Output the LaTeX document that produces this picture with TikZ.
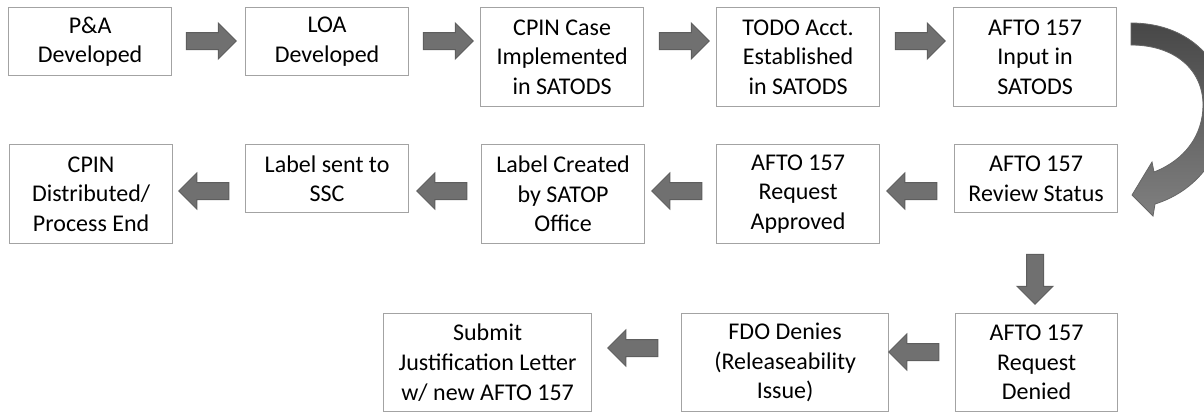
\documentclass[tikz,border=0pt]{standalone}
\usepackage{fontspec}
\setmainfont{Carlito}
\usetikzlibrary{shapes.arrows}
\definecolor{boxline}{HTML}{A3A3A3}
\definecolor{arrfill}{HTML}{707070}
\definecolor{arrline}{HTML}{5E5E5E}
\begin{document}
\begin{tikzpicture}[x=0.5pt,y=-0.5pt,
  stepbox/.style={draw=boxline, line width=0.6pt, rectangle, anchor=north west, inner sep=0pt,
    align=center, minimum width=81.5pt, font=\fontsize{12}{14.8}\selectfont},
  twoline/.style={stepbox, minimum height=34pt},
  threeline/.style={stepbox, minimum height=49.5pt},
  barrow/.style={single arrow, draw=arrline, fill=arrfill, line width=0.5pt,
    minimum height=25pt, minimum width=17.5pt, single arrow head extend=4.75pt,
    inner xsep=0pt, inner ysep=4pt, anchor=center}]
\useasboundingbox (0,0) rectangle (1204,412);
\clip (0,0) rectangle (1204,412);
% row 1
\node[twoline]   (pa)   at (8,7)   {P\&A\\Developed};
\node[twoline]   (loa)  at (245,7) {LOA\\Developed};
\node[threeline] (cpin) at (480,7) {CPIN Case\\Implemented\\in SATODS};
\node[threeline] (todo) at (716,7) {TODO Acct.\\Established\\in SATODS};
\node[threeline] (input) at (953,7) {AFTO 157\\Input in\\SATODS};
% row 2
\node[twoline]   (review) at (954,144) {AFTO 157\\Review Status};
\node[threeline] (approved) at (716,144) {AFTO 157\\Request\\Approved};
\node[threeline] (created) at (481,144) {Label Created\\by SATOP\\Office};
\node[twoline]   (sent) at (245,144) {Label sent to\\SSC};
\node[threeline] (dist) at (9,144) {CPIN\\Distributed/\\Process End};
% row 3
\node[stepbox, minimum width=81pt, minimum height=49pt] (denied) at (955,313) {AFTO 157\\Request\\Denied};
\node[stepbox, minimum width=103.5pt, minimum height=49pt] (fdo) at (681,313) {FDO Denies\\(Releaseability\\Issue)};
\node[stepbox, minimum width=104pt, minimum height=49pt] (submit) at (383,313) {Submit\\Justification Letter\\w/ new AFTO 157};
% row 1 arrows
\node[barrow] (a1) at (207,41) {};
\node[barrow] (a2) at (444,41) {};
\node[barrow] (a3) at (680,41) {};
\node[barrow] (a4) at (916,41) {};
% row 2 arrows
\node[barrow, shape border rotate=180] (a5) at (916,191) {};
\node[barrow, shape border rotate=180] (a6) at (681,191) {};
\node[barrow, shape border rotate=180] (a7) at (446,191) {};
\node[barrow, shape border rotate=180] (a8) at (208,191) {};
% down arrow
\node[barrow, shape border rotate=270, inner xsep=4pt, inner ysep=0pt] (a9) at (1035,275) {};
% row 3 arrows
\node[barrow, shape border rotate=180] (a10) at (918,352) {};
\node[barrow, shape border rotate=180] (a11) at (637,348) {};
% curved arrow
\shade[top color=black!72, bottom color=black!50, draw=black!60, line width=0.4pt]
  (1131,23) .. controls (1192,23) and (1226,65) .. (1226,108)
  .. controls (1226,150) and (1200,190) .. (1155,204)
  -- (1153,216) -- (1132,195) -- (1152,162) -- (1154,172)
  .. controls (1185,160) and (1203,135) .. (1203,105)
  .. controls (1203,70) and (1175,45) .. (1131,45) -- cycle;
\end{tikzpicture}
\end{document}
